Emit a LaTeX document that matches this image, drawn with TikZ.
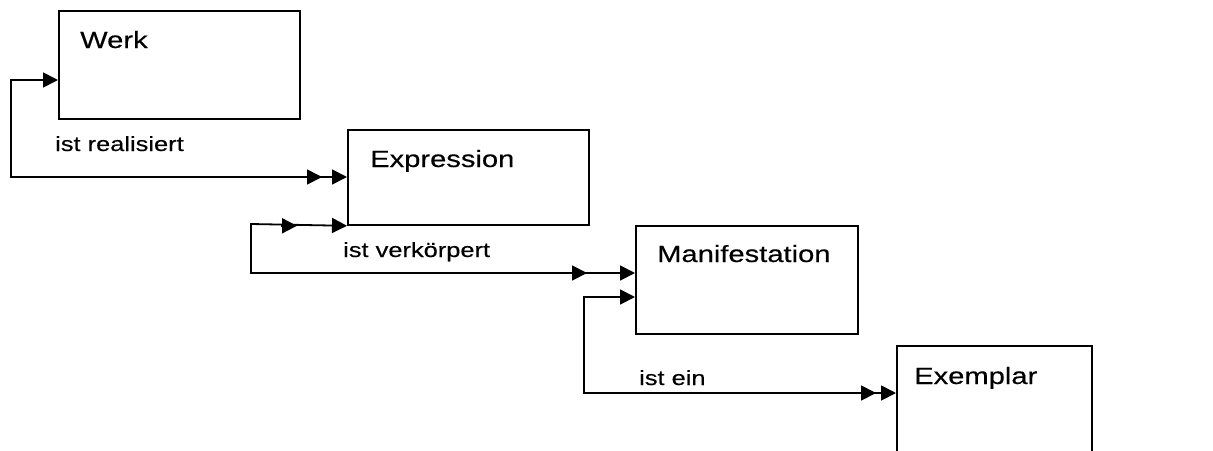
\documentclass[tikz,border=0pt]{standalone}
\usepackage{fontspec}
\setmainfont[FakeStretch=1.24,FakeBold=0.4]{Liberation Sans}
\usetikzlibrary{arrows.meta,calc}
\tikzset{
  box/.style={draw, line width=1.8pt, anchor=north west, inner sep=0pt},
  conn/.style={line width=1.8pt},
  tip/.tip={Triangle[length=15pt,width=15pt]},
  ttl/.style={anchor=base west, inner sep=0pt, font=\fontsize{23.5pt}{27pt}\selectfont},
  lbl/.style={anchor=base west, inner sep=0pt, font=\fontsize{20.5pt}{24pt}\selectfont},
}
\begin{document}
\begin{tikzpicture}[x=1pt,y=-1pt]
\useasboundingbox (0,0) rectangle (1213,450);
% boxes
\node[box, minimum width=241pt, minimum height=108pt] (werk) at (58,10) {};
\node[box, minimum width=241pt, minimum height=95pt] (expr) at (347,129) {};
\node[box, minimum width=222pt, minimum height=108pt] (manif) at (635,225) {};
\node[box, minimum width=195pt, minimum height=130pt] (exem) at (896,345) {};
% titles
\node[ttl] (t1) at (80,48) {Werk};
\node[ttl] (t2) at (370,167) {Expression};
\node[ttl] (t3) at (657,262) {Manifestation};
\node[ttl] (t4) at (914,384) {Exemplar};
% labels
\node[lbl] (l1) at (55,151) {ist realisiert};
\node[lbl] (l2) at (343,257) {ist verkörpert};
\node[lbl] (l3) at (639,385) {ist ein};
% elbows
\coordinate (k1) at (11,80);
\coordinate (k2) at (11,177);
\coordinate (k3) at (251,224);
\coordinate (k4) at (251,273);
\coordinate (k5) at (584,297);
\coordinate (k6) at (584,393);
% connector 1
\draw[conn, {tip}-{tip}] (werk.west |- k1) -- (k1) -- (k2) -- (expr.west |- k2);
\draw[conn, -{tip}] ($(expr.west |- k2)+(-41,0)$) -- ($(expr.west |- k2)+(-25,0)$);
% connector 2
\draw[conn, {tip}-{tip}] (expr.south west) -- (k3) -- (k4) -- (manif.west |- k4);
\draw[conn, -{tip}] ($(expr.south west)+(-66,0)$) -- ($(expr.south west)+(-50,0)$);
\draw[conn, -{tip}] ($(manif.west |- k4)+(-64,0)$) -- ($(manif.west |- k4)+(-48,0)$);
% connector 3
\draw[conn, {tip}-{tip}] (manif.west |- k5) -- (k5) -- (k6) -- (exem.west |- k6);
\draw[conn, -{tip}] ($(exem.west |- k6)+(-36,0)$) -- ($(exem.west |- k6)+(-20,0)$);
\end{tikzpicture}
\end{document}
